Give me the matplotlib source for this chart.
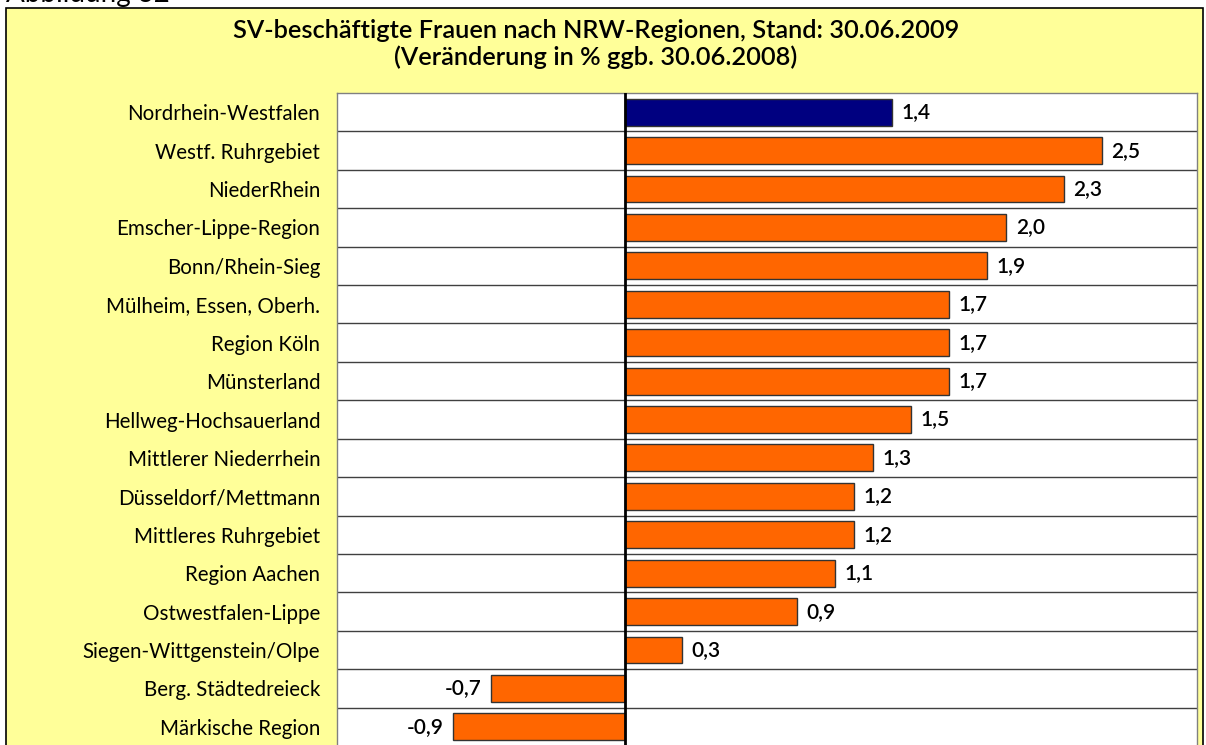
import matplotlib
matplotlib.use("Agg")
import matplotlib.pyplot as plt
from matplotlib.patches import Rectangle

plt.rcParams['font.family'] = ['Lato', 'DejaVu Sans']

regions = ["Nordrhein-Westfalen", "Westf. Ruhrgebiet", "NiederRhein", "Emscher-Lippe-Region",
           "Bonn/Rhein-Sieg", "Mülheim, Essen, Oberh.", "Region Köln", "Münsterland",
           "Hellweg-Hochsauerland", "Mittlerer Niederrhein", "Düsseldorf/Mettmann",
           "Mittleres Ruhrgebiet", "Region Aachen", "Ostwestfalen-Lippe",
           "Siegen-Wittgenstein/Olpe", "Berg. Städtedreieck", "Märkische Region"]
values = [1.4, 2.5, 2.3, 2.0, 1.9, 1.7, 1.7, 1.7, 1.5, 1.3, 1.2, 1.2, 1.1, 0.9, 0.3, -0.7, -0.9]
colors = ["#000080"] + ["#FF6600"] * (len(values) - 1)

W, H = 1206, 745
fig = plt.figure(figsize=(W / 100, H / 100), dpi=100)
fig.patch.set_facecolor("white")

# yellow frame
fig.patches.append(Rectangle((6 / W, -0.02), (1203 - 6) / W, 1 - 8 / H + 0.02,
                             transform=fig.transFigure, facecolor="#FFFF99",
                             edgecolor="black", linewidth=1.2, zorder=-10))

fig.text(6 / W, 1 - 2 / H, "Abbildung 32", fontsize=20, ha="left", va="baseline")
fig.text(596 / W, 1 - 31 / H, "SV-beschäftigte Frauen nach NRW-Regionen, Stand: 30.06.2009",
         fontsize=18.3, fontweight=600, ha="center", va="center")
fig.text(596 / W, 1 - 57 / H, "(Veränderung in % ggb. 30.06.2008)",
         fontsize=18.3, fontweight=600, ha="center", va="center")

ax = fig.add_axes([337 / W, 1 - 746 / H, (1197 - 337) / W, (746 - 93) / H])
ax.set_zorder(1)
ax.set_facecolor("white")
y = list(range(len(values)))
ax.barh(y, values, height=0.7, color=colors, edgecolor="#333333", linewidth=1, zorder=3)
ax.set_xlim(-1.51, 3.0)
ax.set_ylim(len(values) - 0.5, -0.5)
ax.set_yticks(y)
ax.set_yticklabels(regions, fontsize=14.8)
ax.tick_params(axis="y", length=0, pad=12)
ax.set_xticks([])
for i in range(1, len(values)):
    ax.axhline(i - 0.5, color="#404040", linewidth=1, zorder=1)
ax.axvline(0, color="black", linewidth=2, zorder=4)
for s in ax.spines.values():
    s.set_color("#808080")
    s.set_linewidth(1)

for i, v in enumerate(values):
    lab = f"{v:.1f}".replace(".", ",")
    if v >= 0:
        ax.annotate(lab, (v, i), xytext=(7, 0), textcoords="offset points",
                    ha="left", va="center", fontsize=15, fontweight=600)
    else:
        ax.annotate(lab, (v, i), xytext=(-7, 0), textcoords="offset points",
                    ha="right", va="center", fontsize=15, fontweight=600)

fig.savefig("out.png", dpi=100)
